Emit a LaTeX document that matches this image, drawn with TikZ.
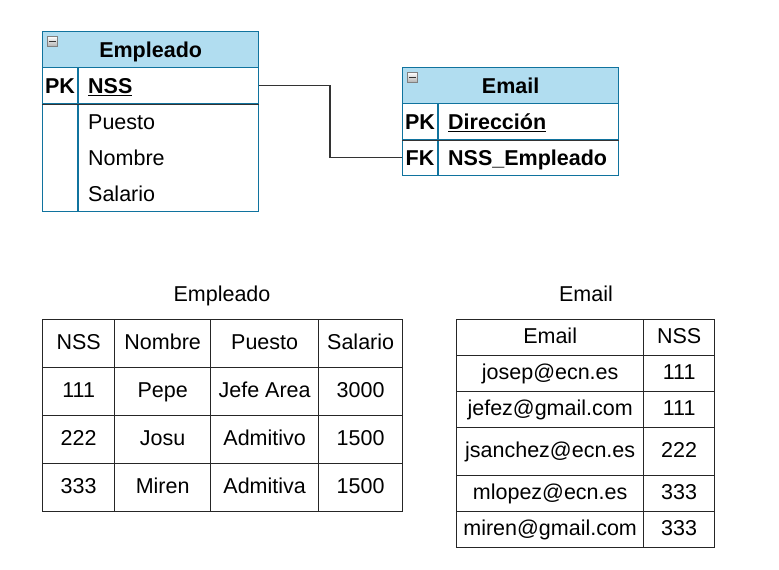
\documentclass[tikz,border=0pt]{standalone}
\usepackage{fontspec}
\setmainfont{Liberation Sans}
\definecolor{erborder}{HTML}{10739E}
\definecolor{erfill}{HTML}{B1DDF0}
\definecolor{erdark}{HTML}{333333}
\begin{document}
\begin{tikzpicture}[x=1pt,y=-1pt,
  txt/.style={font=\fontsize{21.5}{25}\selectfont, text height=15pt, text depth=0pt, inner sep=0pt},
  hdr/.style={txt, font=\fontsize{21.5}{25}\selectfont\bfseries, draw=erborder, fill=erfill, line width=1.3pt, minimum width=216pt, minimum height=36pt, anchor=north west},
  rowbox/.style={draw=erborder, line width=1.3pt, minimum width=216pt, anchor=north west, inner sep=0pt},
  keytxt/.style={txt, font=\fontsize{21.5}{25}\selectfont\bfseries},
  attr/.style={txt, anchor=west},
  battr/.style={txt, font=\fontsize{21.5}{25}\selectfont\bfseries, anchor=west},
  conn/.style={draw=erdark, line width=1.3pt},
  minus/.style={draw=gray, line width=0.6pt, top color=white, bottom color=gray!60, minimum width=10pt, minimum height=10pt, inner sep=0pt, anchor=north west},
  cell/.style={txt, text height=15pt, text depth=4pt, draw=black!85, line width=1.3pt, anchor=north west},
  title/.style={txt}
]
\useasboundingbox (0,0) rectangle (779,570);
\fill[white] (0,0) rectangle (779,570);

% ---------- Entity Empleado ----------
\node[rowbox, minimum height=108pt] (e1rest) at (42,103) {};
\node[rowbox, minimum height=36pt] (e1pk) at (42,67) {};
\node[hdr] (e1h) at (42,31) {Empleado};
\draw[draw=erborder, line width=1.3pt] (78,67) -- (78,211);
\draw[draw=erdark, line width=1.3pt] (e1pk.south west) -- (e1pk.south east);
\node[minus] (e1m) at (47,36) {};
\draw[line width=1pt, black!80] ([xshift=2pt]e1m.west) -- ([xshift=-2pt]e1m.east);
\node[keytxt] (e1k) at (60,86) {PK};
\node[battr] (e1a1) at (88,86) {\underline{NSS}};
\node[attr] (e1a2) at (88,122) {Puesto};
\node[attr] (e1a3) at (88,158) {Nombre};
\node[attr] (e1a4) at (88,194) {Salario};

% ---------- Entity Email ----------
\node[rowbox, minimum height=36pt] (e2fk) at (402,139) {};
\node[rowbox, minimum height=36pt] (e2pk) at (402,103) {};
\node[hdr] (e2h) at (402,67) {Email};
\draw[draw=erborder, line width=1.3pt] (438,103) -- (438,175);
\draw[draw=erdark, line width=1.3pt] (e2pk.south west) -- (e2pk.south east);
\node[minus] (e2m) at (407,72) {};
\draw[line width=1pt, black!80] ([xshift=2pt]e2m.west) -- ([xshift=-2pt]e2m.east);
\node[keytxt] (e2k1) at (420,122) {PK};
\node[keytxt] (e2k2) at (420,158) {FK};
\node[battr] (e2a1) at (448,122) {\underline{Dirección}};
\node[battr] (e2a2) at (448,158) {NSS\_Empleado};

% ---------- Connector ----------
\coordinate (bend) at (330,121);
\draw[conn] (e1pk.east) -| (bend) |- (e2fk.west);

% ---------- Table Empleado ----------
\node[title] (t1t) at (222,294) {Empleado};
\foreach \r/\y/\a/\b/\c/\d in {0/319/NSS/Nombre/Puesto/Salario,
                                1/367/111/Pepe/Jefe Area/3000,
                                2/415/222/Josu/Admitivo/1500,
                                3/463/333/Miren/Admitiva/1500}{
  \node[cell, minimum width=72pt, minimum height=48pt] (ta-\r-1) at (42,\y) {\a};
  \node[cell, minimum width=96pt, minimum height=48pt] (ta-\r-2) at (114,\y) {\b};
  \node[cell, minimum width=108pt, minimum height=48pt] (ta-\r-3) at (210,\y) {\c};
  \node[cell, minimum width=84pt, minimum height=48pt] (ta-\r-4) at (318,\y) {\d};
}

% ---------- Table Email ----------
\node[title] (t2t) at (586,294) {Email};
\foreach \r/\y/\h/\a/\b in {0/319/36/Email/NSS,
                            1/355/36/josep@ecn.es/111,
                            2/391/36/jefez@gmail.com/111,
                            3/427/48/jsanchez@ecn.es/222,
                            4/475/36/mlopez@ecn.es/333,
                            5/511/36/miren@gmail.com/333}{
  \node[cell, minimum width=187pt, minimum height=\h pt] (tb-\r-1) at (456,\y) {\a};
  \node[cell, minimum width=71pt, minimum height=\h pt] (tb-\r-2) at (643,\y) {\b};
}
\end{tikzpicture}
\end{document}
